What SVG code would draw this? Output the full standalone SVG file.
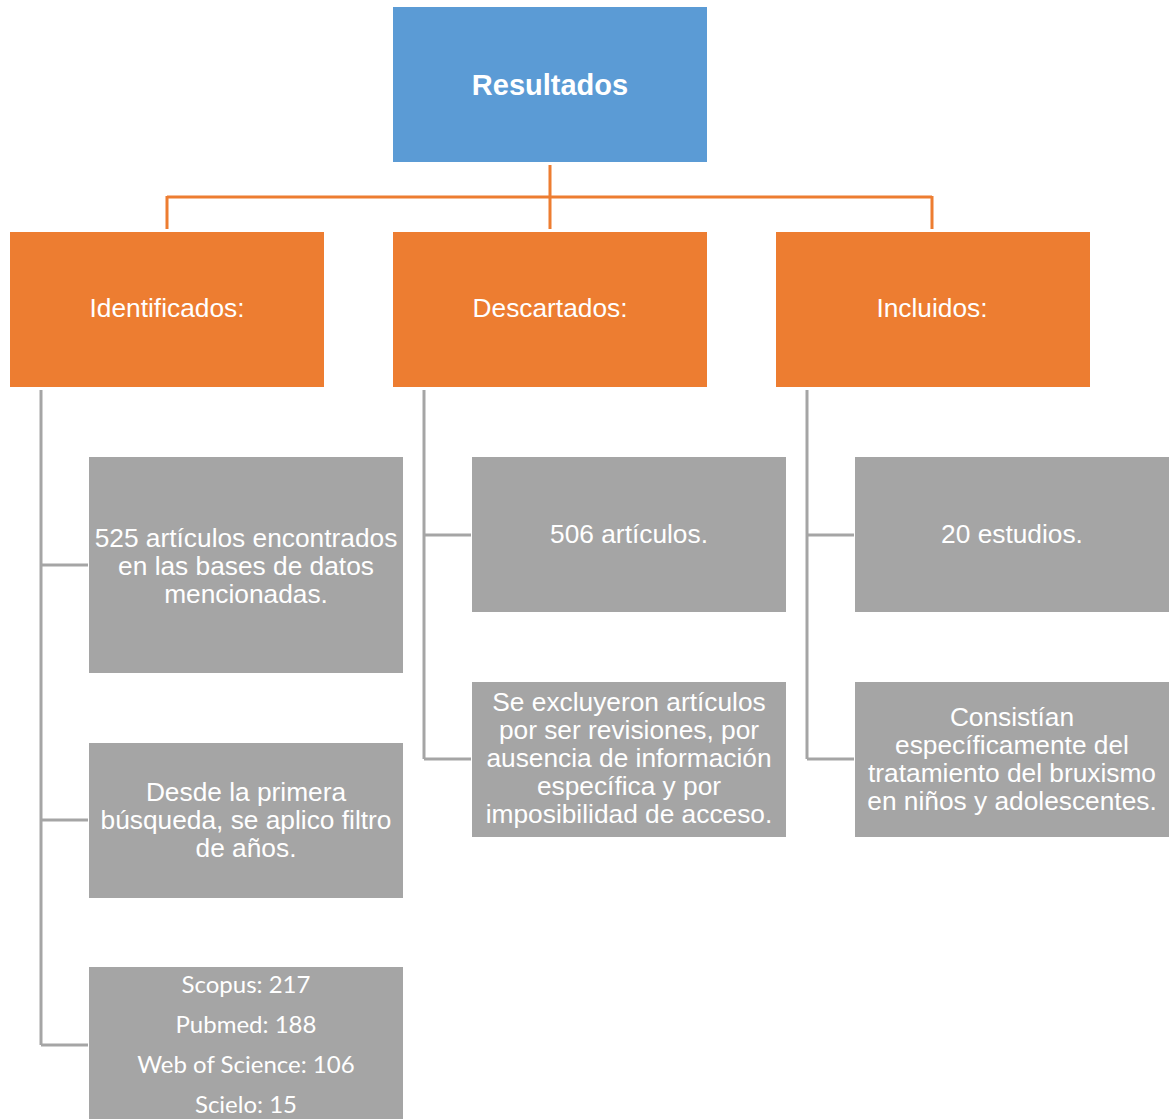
<svg xmlns="http://www.w3.org/2000/svg" width="1176" height="1119" viewBox="0 0 1176 1119">
<style>
.blue{fill:#5B9BD5}
.orange{fill:#ED7D31}
.gray{fill:#A5A5A5}
.t{font-family:"Liberation Sans",Arial,sans-serif;font-size:26.3px;fill:#fff;text-anchor:middle}
.tb{font-family:"Liberation Sans",Arial,sans-serif;font-size:29px;font-weight:bold;fill:#fff;text-anchor:middle}
.tc{font-family:Lato,"Open Sans",sans-serif;font-size:24px;fill:#fff;text-anchor:middle}
.oc{fill:none;stroke:#ED7D31;stroke-width:3}
.gc{fill:none;stroke:#A5A5A5;stroke-width:3}
</style>
<rect width="1176" height="1119" fill="#fff"/>
<g id="connectors">
<path class="oc" d="M550 165V229M167 197H932M167 196V229M932 196V229"/>
<path class="gc" d="M41 390V1045M41 565H88M41 820H88M41 1045H88"/>
<path class="gc" d="M424 390V759M424 535H471M424 759H471"/>
<path class="gc" d="M807 390V759M807 535H854M807 759H854"/>
</g>
<g id="resultados">
<rect class="blue" x="393" y="7" width="314" height="155"/>
<text class="tb" x="550" y="95">Resultados</text>
</g>
<g id="identificados">
<rect class="orange" x="10" y="232" width="314" height="155"/>
<text class="t" x="167" y="317">Identificados:</text>
</g>
<g id="descartados">
<rect class="orange" x="393" y="232" width="314" height="155"/>
<text class="t" x="550" y="317">Descartados:</text>
</g>
<g id="incluidos">
<rect class="orange" x="776" y="232" width="314" height="155"/>
<text class="t" x="932" y="317">Incluidos:</text>
</g>
<g id="id1">
<rect class="gray" x="89" y="457" width="314" height="216"/>
<text class="t" x="246" y="547">525 artículos encontrados</text>
<text class="t" x="246" y="575">en las bases de datos</text>
<text class="t" x="246" y="603">mencionadas.</text>
</g>
<g id="id2">
<rect class="gray" x="89" y="743" width="314" height="155"/>
<text class="t" x="246" y="801">Desde la primera</text>
<text class="t" x="246" y="829">búsqueda, se aplico filtro</text>
<text class="t" x="246" y="857">de años.</text>
</g>
<g id="id3">
<rect class="gray" x="89" y="967" width="314" height="160"/>
<text class="tc" x="246" y="993">Scopus: 217</text>
<text class="tc" x="246" y="1033">Pubmed: 188</text>
<text class="tc" x="246" y="1073">Web of Science: 106</text>
<text class="tc" x="246" y="1113">Scielo: 15</text>
</g>
<g id="de1">
<rect class="gray" x="472" y="457" width="314" height="155"/>
<text class="t" x="629" y="543">506 artículos.</text>
</g>
<g id="de2">
<rect class="gray" x="472" y="682" width="314" height="155"/>
<text class="t" x="629" y="711">Se excluyeron artículos</text>
<text class="t" x="629" y="739">por ser revisiones, por</text>
<text class="t" x="629" y="767">ausencia de información</text>
<text class="t" x="629" y="795">específica y por</text>
<text class="t" x="629" y="823">imposibilidad de acceso.</text>
</g>
<g id="in1">
<rect class="gray" x="855" y="457" width="314" height="155"/>
<text class="t" x="1012" y="543">20 estudios.</text>
</g>
<g id="in2">
<rect class="gray" x="855" y="682" width="314" height="155"/>
<text class="t" x="1012" y="726">Consistían</text>
<text class="t" x="1012" y="754">específicamente del</text>
<text class="t" x="1012" y="782">tratamiento del bruxismo</text>
<text class="t" x="1012" y="810">en niños y adolescentes.</text>
</g>
</svg>
